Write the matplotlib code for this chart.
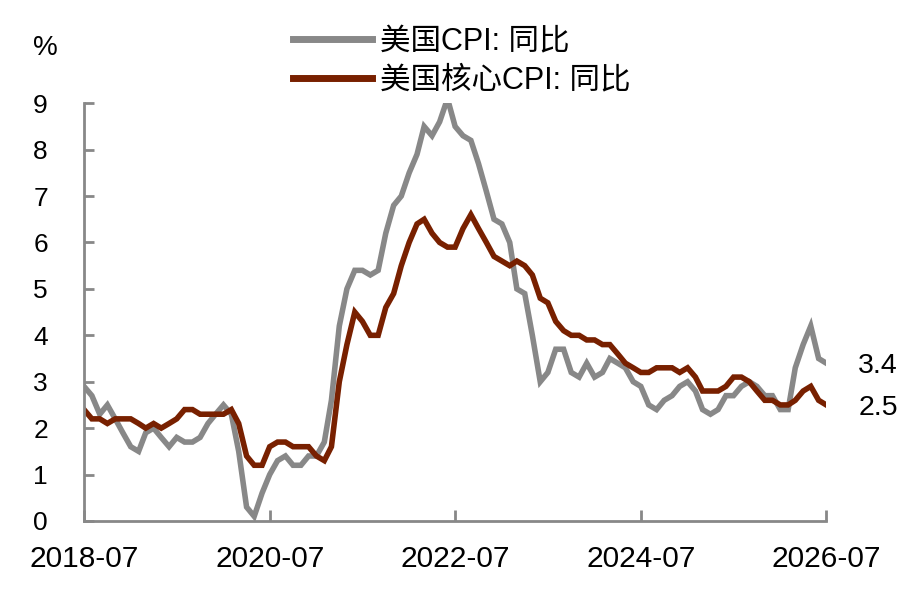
import pandas as pd
import matplotlib.pyplot as plt

plt.rcParams['font.family'] = ['Liberation Sans', 'Noto Sans CJK SC', 'DejaVu Sans']

# 月度数据 2018-07 至 2026-07
months = pd.date_range('2018-07-01', '2026-07-01', freq='MS')

cpi = [2.9, 2.7, 2.3, 2.5, 2.2, 1.9,
       1.6, 1.5, 1.9, 2.0, 1.8, 1.6, 1.8, 1.7, 1.7, 1.8, 2.1, 2.3,
       2.5, 2.3, 1.5, 0.3, 0.1, 0.6, 1.0, 1.3, 1.4, 1.2, 1.2, 1.4,
       1.4, 1.7, 2.6, 4.2, 5.0, 5.4, 5.4, 5.3, 5.4, 6.2, 6.8, 7.0,
       7.5, 7.9, 8.5, 8.3, 8.6, 9.1, 8.5, 8.3, 8.2, 7.7, 7.1, 6.5,
       6.4, 6.0, 5.0, 4.9, 4.0, 3.0, 3.2, 3.7, 3.7, 3.2, 3.1, 3.4,
       3.1, 3.2, 3.5, 3.4, 3.3, 3.0, 2.9, 2.5, 2.4, 2.6, 2.7, 2.9,
       3.0, 2.8, 2.4, 2.3, 2.4, 2.7, 2.7, 2.9, 3.0, 2.9, 2.7, 2.7,
       2.4, 2.4, 3.3, 3.8, 4.2, 3.5, 3.4]

core_cpi = [2.4, 2.2, 2.2, 2.1, 2.2, 2.2,
            2.2, 2.1, 2.0, 2.1, 2.0, 2.1, 2.2, 2.4, 2.4, 2.3, 2.3, 2.3,
            2.3, 2.4, 2.1, 1.4, 1.2, 1.2, 1.6, 1.7, 1.7, 1.6, 1.6, 1.6,
            1.4, 1.3, 1.6, 3.0, 3.8, 4.5, 4.3, 4.0, 4.0, 4.6, 4.9, 5.5,
            6.0, 6.4, 6.5, 6.2, 6.0, 5.9, 5.9, 6.3, 6.6, 6.3, 6.0, 5.7,
            5.6, 5.5, 5.6, 5.5, 5.3, 4.8, 4.7, 4.3, 4.1, 4.0, 4.0, 3.9,
            3.9, 3.8, 3.8, 3.6, 3.4, 3.3, 3.2, 3.2, 3.3, 3.3, 3.3, 3.2,
            3.3, 3.1, 2.8, 2.8, 2.8, 2.9, 3.1, 3.1, 3.0, 2.8, 2.6, 2.6,
            2.5, 2.5, 2.6, 2.8, 2.9, 2.6, 2.5]

tick_dates = pd.to_datetime(['2018-07-01', '2020-07-01', '2022-07-01',
                             '2024-07-01', '2026-07-01'])
tick_labels = ['2018-07', '2020-07', '2022-07', '2024-07', '2026-07']

gray = '#888888'
red = '#782000'

fig = plt.figure(figsize=(9.13, 5.90), dpi=100)
ax = fig.add_axes([0.092, 0.117, 0.813, 0.708])

ax.plot(months, cpi, color=gray, lw=4, label='美国CPI: 同比', solid_joinstyle='miter')
ax.plot(months, core_cpi, color=red, lw=4, label='美国核心CPI: 同比', solid_joinstyle='miter')

ax.set_xlim(months[0], months[-1])
ax.set_ylim(0, 9)
ax.set_yticks(range(10))
ax.set_xticks(tick_dates)
ax.set_xticklabels(tick_labels)

for s in ['top', 'right']:
    ax.spines[s].set_visible(False)
for s in ['left', 'bottom']:
    ax.spines[s].set_color(gray)
    ax.spines[s].set_linewidth(2)

ax.tick_params(axis='y', direction='in', length=7, width=2, color=gray,
               labelsize=19, pad=26)
ax.tick_params(axis='x', direction='in', length=8, width=2, color=gray,
               labelsize=21.5, pad=17)

# 末值标注
ax.annotate(f'{cpi[-1]:.1f}', xy=(months[-1], cpi[-1]), xytext=(23, -2),
            textcoords='offset points', ha='left', va='center', fontsize=20.5)
ax.annotate(f'{core_cpi[-1]:.1f}', xy=(months[-1], core_cpi[-1]), xytext=(23, -2),
            textcoords='offset points', ha='left', va='center', fontsize=20.5)

fig.text(0.036, 0.918, '%', fontsize=20, ha='left', va='center')

leg = fig.legend(loc='upper left', bbox_to_anchor=(0.307, 0.975), frameon=False,
                 fontsize=22, handlelength=2.6, handletextpad=0.26, labelspacing=0.27,
                 borderaxespad=0)
for h in leg.get_lines():
    h.set_linewidth(5)

plt.savefig('out.png', dpi=100)
